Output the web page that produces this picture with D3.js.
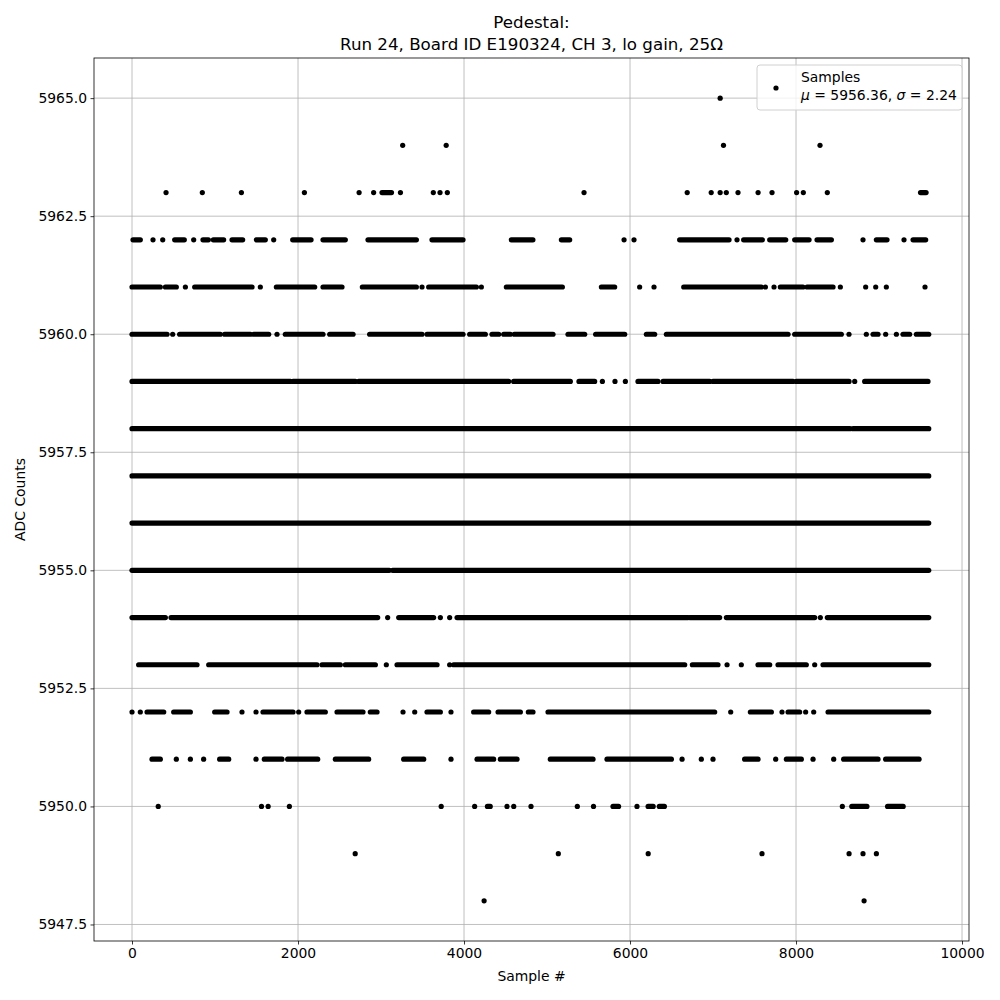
<!DOCTYPE html>
<html><head><meta charset="utf-8">
<script src="https://cdn.jsdelivr.net/npm/d3@7/dist/d3.min.js"></script>
<style>body{margin:0;background:#fff;} svg{display:block;font-family:"DejaVu Sans",sans-serif;}</style>
</head><body><svg id="c" width="1000" height="1000"></svg>
<script>
// ADC levels and, for each, the sample-index runs [start,end] where markers appear
const run5965 = [[7086,7086]];
const run5964 = [[3261,3261],[3785,3785],[7126,7126],[8289,8289]];
const run5963 = [[410,410],[847,847],[1318,1318],[2077,2077],[2736,2736],[2911,2911],[3012,3126],[3234,3234],[3630,3630],[3711,3711],[3799,3799],[5446,5446],[6689,6689],[6978,6978],[7086,7086],[7160,7160],[7301,7301],[7543,7543],[7711,7711],[8007,8007],[8088,8088],[8377,8377],[9500,9567]];
const run5962 = [[12,100],[253,253],[370,370],[514,630],[743,743],[855,920],[980,1104],[1205,1333],[1498,1606],[1707,1707],[1936,2157],[2301,2570],[2843,3426],[3614,3988],[4570,4830],[5173,5273],[5928,5928],[6048,6048],[6598,7193],[7289,7289],[7369,7594],[7683,7876],[7984,8157],[8253,8426],[8807,8807],[8968,9096],[9301,9301],[9410,9562]];
const run5961 = [[0,341],[402,534],[643,643],[755,1446],[1546,1546],[1739,2201],[2301,2530],[2775,3426],[3494,3494],[3574,4149],[4209,4209],[4510,5185],[5655,5815],[6116,6116],[6289,6289],[6647,7582],[7631,7631],[7735,7735],[7811,8084],[8133,8446],[8534,8534],[8839,8839],[8960,8960],[9088,9088],[9554,9554]];
const run5960 = [[0,422],[490,490],[574,1064],[1116,1426],[1466,1647],[1747,1747],[1847,2301],[2382,2663],[2863,3494],[3554,3988],[4068,4257],[4337,4418],[4478,4558],[4606,5072],[5253,5454],[5586,5936],[6197,6297],[6438,7904],[7984,8546],[8638,8638],[8847,8847],[8928,8988],[9080,9080],[9209,9209],[9289,9369],[9450,9599]];
const run5959 = [[0,1908],[1940,2691],[2731,4538],[4598,5281],[5385,5574],[5667,5667],[5819,5819],[5944,5944],[6096,6337],[6398,6960],[7000,7964],[8004,8639],[8707,8707],[8827,9590]];
const run5958 = [[0,8650],[8687,9599]];
const run5957 = [[0,9599]];
const run5956 = [[0,9599]];
const run5955 = [[0,3100],[3140,9599]];
const run5954 = [[0,402],[470,2960],[3080,3080],[3213,3634],[3715,3715],[3827,3827],[3916,6699],[6719,7080],[7161,8225],[8293,8293],[8377,9599]];
const run5953 = [[80,783],[924,2229],[2289,2510],[2570,2932],[3064,3064],[3193,3675],[3827,3827],[3875,6659],[6751,7060],[7169,7169],[7341,7341],[7542,7683],[7783,8124],[8225,8225],[8325,9599]];
const run5952 = [[0,0],[100,100],[181,382],[502,703],[996,1145],[1325,1325],[1494,1494],[1578,1940],[2008,2008],[2108,2329],[2470,2783],[2871,2952],[3265,3265],[3406,3406],[3554,3715],[3843,3843],[4116,4297],[4410,4679],[4775,4831],[5012,7020],[7213,7213],[7450,7703],[7831,7831],[7904,8044],[8116,8116],[8213,8213],[8386,9599]];
const run5951 = [[241,341],[534,534],[703,703],[863,863],[1056,1165],[1494,1494],[1594,1807],[1875,2237],[2450,2851],[3273,3514],[3843,3843],[4157,4357],[4438,4638],[5040,5554],[5723,6498],[6627,6627],[6859,6859],[7000,7000],[7381,7542],[7755,7755],[7884,8064],[8205,8205],[8454,8454],[8574,8988],[9080,9482]];
const run5950 = [[316,316],[1560,1560],[1640,1640],[1896,1896],[3725,3725],[4128,4128],[4282,4316],[4518,4518],[4599,4599],[4807,4807],[5365,5365],[5560,5560],[5795,5862],[6084,6084],[6218,6279],[6353,6414],[8558,8558],[8672,8854],[9103,9291]];
const run5949 = [[2689,2689],[5136,5136],[6219,6219],[7590,7590],[8639,8639],[8807,8807],[8968,8968]];
const run5948 = [[4242,4242],[8820,8820]];

const adcLevels = [5965,5964,5963,5962,5961,5960,5959,5958,5957,5956,5955,5954,5953,5952,5951,5950,5949,5948];
const levelRuns = [run5965,run5964,run5963,run5962,run5961,run5960,run5959,run5958,run5957,run5956,run5955,run5954,run5953,run5952,run5951,run5950,run5949,run5948];

const xTicks = [0,2000,4000,6000,8000,10000];
const yTicks = [5947.5,5950.0,5952.5,5955.0,5957.5,5960.0,5962.5,5965.0];
const titleLines = ["Pedestal:", "Run 24, Board ID E190324, CH 3, lo gain, 25\u03A9"];
const xLabel = "Sample #";
const yLabel = "ADC Counts";
const legendLabel = "Samples";
const statMu = "5956.36", statSigma = "2.24";

const L = 94, R = 969, T = 58, B = 941;
const FS = 13.9;
const svg = d3.select("#c");
const x = d3.scaleLinear().domain([-458, 10084]).range([L, R]);
const y = d3.scaleLinear().domain([5947.15, 5965.85]).range([B, T]);

// grid
const g = svg.append("g");
g.selectAll("line.gx").data(xTicks).join("line")
  .attr("x1", d => x(d)).attr("x2", d => x(d)).attr("y1", T).attr("y2", B)
  .attr("stroke", "#b0b0b0").attr("stroke-width", 0.8);
g.selectAll("line.gy").data(yTicks).join("line")
  .attr("y1", d => y(d)).attr("y2", d => y(d)).attr("x1", L).attr("x2", R)
  .attr("stroke", "#b0b0b0").attr("stroke-width", 0.8);

// data marks
const flat = [];
adcLevels.forEach((lv, i) => levelRuns[i].forEach(r => flat.push({lv, a: r[0], b: r[1]})));
svg.append("g").selectAll("line").data(flat).join("line")
  .attr("x1", d => x(d.a)).attr("x2", d => x(d.b))
  .attr("y1", d => y(d.lv)).attr("y2", d => y(d.lv))
  .attr("stroke", "#000").attr("stroke-width", 5.2).attr("stroke-linecap", "round");

// axes
const xAxis = d3.axisBottom(x).tickValues(xTicks).tickFormat(d3.format("d")).tickSize(3.5).tickPadding(3.5);
const yAxis = d3.axisLeft(y).tickValues(yTicks).tickFormat(d3.format(".1f")).tickSize(3.5).tickPadding(3.5);
const ax = svg.append("g").attr("transform", `translate(0,${B})`).call(xAxis);
const ay = svg.append("g").attr("transform", `translate(${L},0)`).call(yAxis);
[ax, ay].forEach(a => {
  a.select(".domain").remove();
  a.selectAll("text").attr("font-size", FS).attr("font-family", "DejaVu Sans").attr("fill", "#000");
  a.selectAll("line").attr("stroke", "#000").attr("stroke-width", 0.8);
});
svg.append("rect").attr("x", L).attr("y", T).attr("width", R - L).attr("height", B - T)
  .attr("fill", "none").attr("stroke", "#000").attr("stroke-width", 0.8);

// titles
svg.append("text").attr("x", (L + R) / 2).attr("y", 28).attr("text-anchor", "middle")
  .attr("font-size", 16.7).text(titleLines[0]);
svg.append("text").attr("x", (L + R) / 2).attr("y", 50).attr("text-anchor", "middle")
  .attr("font-size", 16.7).text(titleLines[1]);
svg.append("text").attr("x", (L + R) / 2).attr("y", 981).attr("text-anchor", "middle")
  .attr("font-size", FS).text(xLabel);
svg.append("text").attr("transform", `translate(25,${(T + B) / 2}) rotate(-90)`).attr("text-anchor", "middle")
  .attr("font-size", FS).text(yLabel);

// legend
const lg = svg.append("g");
lg.append("rect").attr("x", 757).attr("y", 65).attr("width", 205).attr("height", 45).attr("rx", 3)
  .attr("fill", "#fff").attr("fill-opacity", 0.8).attr("stroke", "#d0d0d0").attr("stroke-width", 1);
lg.append("circle").attr("cx", 776).attr("cy", 88).attr("r", 2.6).attr("fill", "#000");
lg.append("text").attr("x", 801).attr("y", 82).attr("font-size", FS).text(legendLabel);
const t2 = lg.append("text").attr("x", 801).attr("y", 100).attr("font-size", FS);
t2.append("tspan").attr("font-style", "italic").text("\u03BC");
t2.append("tspan").text(" = " + statMu + ", ");
t2.append("tspan").attr("font-style", "italic").text("\u03C3");
t2.append("tspan").text(" = " + statSigma);
</script></body></html>
